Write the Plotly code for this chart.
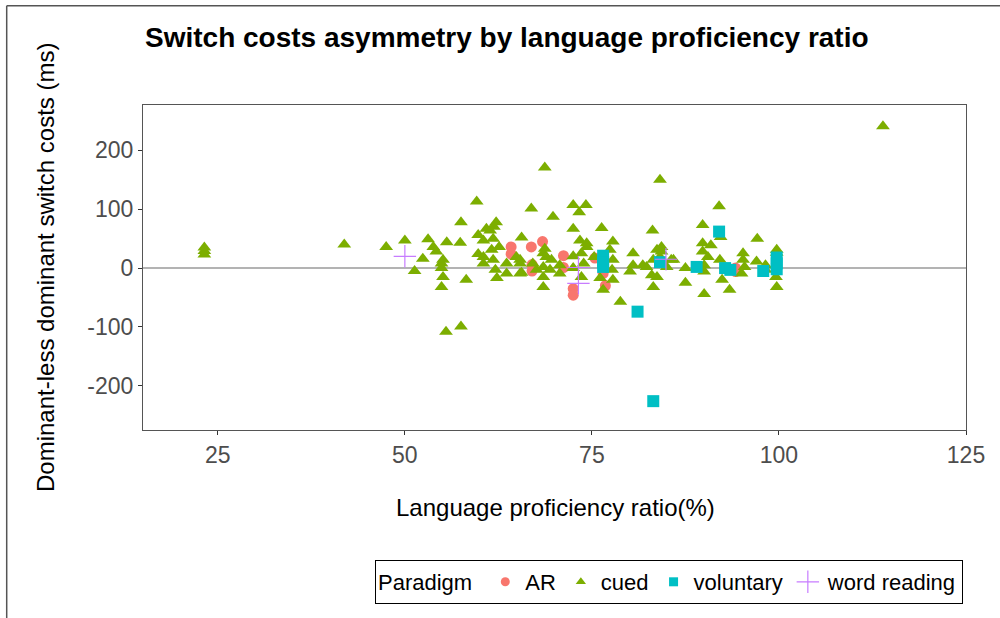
import plotly.graph_objects as go

# ---- data ----
ar_x = [64.2, 64.2, 66.9, 68.4, 67.0, 67.0, 71.2, 71.2, 72.5, 72.5, 75.4, 76.5, 76.8, 94.2, 94.2]
ar_y = [36, 24, 36, 45, 6, -5, 21, 1, -35, -46, 17, -9, -30, 0, -6]

cued_x = [23.2, 23.2, 23.2, 41.9, 47.5, 50.0, 51.3, 52.4, 53.1, 53.8, 54.2, 55.6, 55.1, 54.9,
          54.9, 55.1, 54.9, 55.5, 57.5, 57.4, 57.5, 58.2, 59.6, 59.8, 59.8, 60.5, 60.5, 60.5,
          60.9, 61.4, 61.8, 61.9, 61.6, 61.8, 62.1, 62.3, 62.2, 62.6, 63.6, 63.6, 64.9, 65.4,
          65.6, 65.6, 65.4, 65.4, 66.9, 67.1, 67.6, 68.5, 68.5, 68.5, 68.5, 68.7, 68.9, 68.7,
          69.8, 69.6, 69.4, 70.7, 70.7, 72.5, 74.2, 73.3, 72.5, 72.5, 72.5, 73.4, 74.3, 73.6,
          73.9, 73.6, 74.3, 75.3, 76.3, 76.1, 76.5, 77.8, 77.4, 77.8, 77.7, 77.8, 78.8, 80.5,
          80.5, 80.1, 81.8, 82.3, 83.1, 83.2, 83.7, 83.0, 83.2, 83.7, 84.1, 84.3, 84.1, 84.3,
          85.0, 85.9, 85.6, 87.5, 87.5, 89.8, 89.8, 90.9, 89.8, 90.5, 90.0, 90.0, 90.0, 92.0,
          92.2, 92.1, 92.4, 93.4, 95.2, 95.2, 95.4, 95.0, 97.1, 97.0, 98.2, 98.2, 99.7, 99.7,
          99.6, 99.7, 113.9]
cued_y = [35, 29, 23, 40, 36, 47, -5, 16, 49, 36, 28, 44, 14, 0,
          8, -15, -32, -108, -99, 43, 78, -20, 113, 56, 24, 47, 19, 8,
          67, 64, 50, 70, 31, 14, -3, -17, 78, 36, 8, -9, 19, 14,
          52, -8, 8, -9, 101, 8, -3, 25, 2, -15, -32, 33, 19, 171,
          87, 14, -3, 5, -9, 107, 107, 95, 67, 20, 0, 47, 36, 25,
          8, -15, 42, 19, 68, -17, -37, 45, 31, 14, -3, -20, -57, 25,
          5, -6, 5, 2, 64, -32, -15, -12, 14, 31, 150, 36, 19, 28,
          2, 14, 14, 0, -25, 73, 42, 39, 28, 19, 5, -6, -44, 105,
          53, 14, -20, -37, 25, 14, 2, -9, 50, 11, 5, -3, 31, 26,
          -15, -32, 241]

vol_x = [76.5, 76.5, 76.5, 81.1, 83.2, 84.1, 89.0, 92.0, 92.8, 93.5, 97.9, 99.7, 99.7, 99.7]
vol_y = [21, 10, 2, -74, -226, 10, 2, 62, 0, -3, -5, 18, 8, -2]

word_x = [50.0, 73.2, 73.2, 84.9]
word_y = [20, 1, -26, 15]

x_ticks = [25, 50, 75, 100, 125]
y_ticks = [-200, -100, 0, 100, 200]

series = [
    ("AR", ar_x, ar_y, "circle", 11, "#F8766D"),
    ("cued", cued_x, cued_y, "triangle-up", 12, "#7CAE00"),
    ("voluntary", vol_x, vol_y, "square", 12, "#00BFC4"),
    ("word reading", word_x, word_y, "cross-thin", 16, "#C77CFF"),
]
legend_sizes = {"AR": 9, "cued": 9, "voluntary": 9, "word reading": 16}

fig = go.Figure()
for name, xs, ys, sym, size, col in series:
    fig.add_trace(go.Scatter(x=xs, y=ys, mode="markers", name=name, showlegend=False,
                             legendgroup=name,
                             marker=dict(symbol=sym, size=size, color=col,
                                         line=dict(color=col, width=1.2 if sym == "cross-thin" else 0))))
for name, xs, ys, sym, size, col in series:
    fig.add_trace(go.Scatter(x=[None], y=[None], mode="markers", name=name, showlegend=True,
                             legendgroup=name,
                             marker=dict(symbol=sym, size=legend_sizes[name], color=col,
                                         line=dict(color=col, width=1.2 if sym == "cross-thin" else 0))))

fig.add_hline(y=0, line=dict(color="#9a9a9a", width=1.5), layer="below")

# outer frame lines (left and top)
L, T, W, H = 143, 105, 823, 325
fx, fy = 6.7, 5.7
fig.add_shape(type="line", xref="paper", yref="paper",
              x0=(fx - L) / W, x1=(fx - L) / W, y0=(T + H - fy) / H, y1=(T + H - 625) / H,
              line=dict(color="#555555", width=1.5))
fig.add_shape(type="line", xref="paper", yref="paper",
              x0=(fx - L) / W, x1=(1005 - L) / W, y0=(T + H - fy) / H, y1=(T + H - fy) / H,
              line=dict(color="#555555", width=1.5))

# axis titles as annotations
fig.add_annotation(text="Language proficiency ratio(%)", xref="paper", yref="paper",
                   x=(555 - L) / W, y=(T + H - 507) / H, xanchor="center", yanchor="middle",
                   showarrow=False, font=dict(size=24, color="black"))
fig.add_annotation(text="Dominant-less dominant switch costs (ms)", xref="paper", yref="paper",
                   x=(45 - L) / W, y=(T + H - 268) / H, xanchor="center", yanchor="middle",
                   textangle=-90, showarrow=False, font=dict(size=24, color="black"))

fig.update_layout(
    width=1000, height=618,
    margin=dict(l=L, r=1000 - L - W, t=T, b=618 - T - H),
    paper_bgcolor="white", plot_bgcolor="white",
    font=dict(family="Liberation Sans, Arial, sans-serif", color="black"),
    title=dict(text="<b>Switch costs asymmetry by language proficiency ratio</b>",
               x=145 / 1000, xanchor="left", y=1 - 37 / 618, yanchor="middle",
               font=dict(size=28, color="black")),
    showlegend=True,
    legend=dict(orientation="h", x=(963 - L) / W, xanchor="right",
                y=(T + H - 560) / H, yanchor="top",
                bordercolor="black", borderwidth=1, bgcolor="white",
                font=dict(size=22, color="black"),
                title=dict(text="Paradigm ", font=dict(size=22, color="black")),
                itemsizing="trace"),
)

fig.update_xaxes(range=[15, 125], tickvals=x_ticks, ticktext=[str(v) for v in x_ticks],
                 showgrid=False, zeroline=False, showline=True, mirror=True,
                 linecolor="#555555", linewidth=1.2, ticks="outside", ticklen=4,
                 tickcolor="#333333", tickfont=dict(size=23, color="#4D4D4D"))
fig.update_yaxes(range=[-275, 277], tickvals=y_ticks, ticktext=[str(v) for v in y_ticks],
                 showgrid=False, zeroline=False, showline=True, mirror=True,
                 linecolor="#555555", linewidth=1.2, ticks="outside", ticklen=4,
                 tickcolor="#333333", tickfont=dict(size=23, color="#4D4D4D"))

fig.write_html("out.html", config={"displayModeBar": False},
               post_script="document.body.style.margin='0px';")
